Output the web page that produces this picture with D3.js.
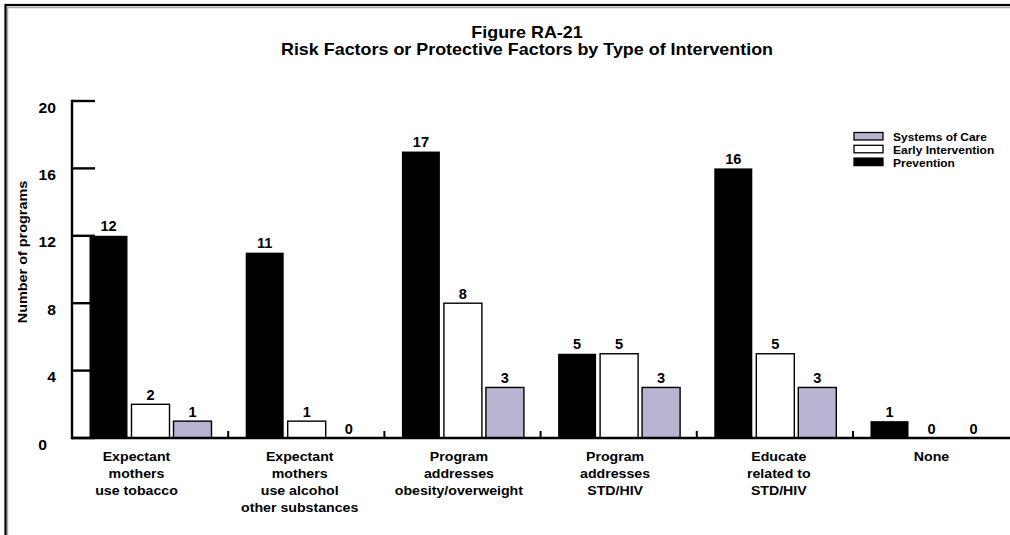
<!DOCTYPE html>
<html><head><meta charset="utf-8">
<script src="https://cdn.jsdelivr.net/npm/d3@7"></script>
<style>body{margin:0;background:#fff}svg{display:block}text{font-family:Arial,"Liberation Sans",sans-serif;font-weight:bold;fill:#000}</style>
</head><body>
<svg id="c" width="1010" height="535"></svg>
<script>
const categories = [
  ["Expectant","mothers","use tobacco"],
  ["Expectant","mothers","use alcohol","other substances"],
  ["Program","addresses","obesity/overweight"],
  ["Program","addresses","STD/HIV"],
  ["Educate","related to","STD/HIV"],
  ["None"]
];
const seriesNames = ["Prevention","Early Intervention","Systems of Care"];
const prevention = [12, 11, 17, 5, 16, 1];
const earlyIntervention = [2, 1, 8, 5, 5, 0];
const systemsOfCare = [1, 0, 3, 3, 3, 0];
const yTicks = [0, 4, 8, 12, 16, 20];
const titleLines = ["Figure RA-21", "Risk Factors or Protective Factors by Type of Intervention"];
const yLabel = "Number of programs";

const colors = ["#000000", "#ffffff", "#b8b4d2"];
const series = [prevention, earlyIntervention, systemsOfCare];

const svg = d3.select("#c");

function txt(x, y, s, size, sx, anchor, rot) {
  return svg.append("text")
    .attr("transform", `translate(${x},${y})` + (rot ? ` rotate(${rot})` : "") + ` scale(${sx},1)`)
    .attr("text-anchor", anchor || "start")
    .style("font-size", size + "px")
    .text(s);
}

// outer frame (extends past the window on right and bottom)
svg.append("rect").attr("x",7.5).attr("y",7.5).attr("width",1100).attr("height",700)
  .attr("fill","none").attr("stroke","#aaa").attr("stroke-width",1.5);
svg.append("rect").attr("x",5.5).attr("y",5).attr("width",1100).attr("height",700)
  .attr("fill","none").attr("stroke","#000").attr("stroke-width",2.2);

const x0 = 72, x1 = 1010, yTop = 101, yBot = 438;
const x = d3.scaleBand().domain(d3.range(categories.length)).range([x0, x0 + 156.2*6]).padding(0);
const y = d3.scaleLinear().domain([0,20]).range([yBot, yTop]);
const bw = 38, step = 42, off = 17.5;
const labelShift = [-14, -7, -4, -4, 3.5, 0];

// title
txt(527, 38, titleLines[0], 16, 1.12, "middle");
txt(527, 55, titleLines[1], 16, 1.12, "middle");

// y label
txt(27, 252, yLabel, 13, 1.11, "middle", -90);

// bars
categories.forEach((c,i)=>{
  series.forEach((s,j)=>{
    const v = s[i];
    const bx = x(i) + off + j*step;
    if (v > 0) {
      svg.append("rect").attr("x",bx).attr("y",y(v)).attr("width",bw).attr("height",y(0)-y(v))
        .attr("fill",colors[j]).attr("stroke","#000").attr("stroke-width", j===0?0:1.4);
    }
    txt(bx+bw/2, y(v)-4.5, String(v), 14, 1.04, "middle");
  });
});

// y axis
svg.append("line").attr("x1",x0).attr("x2",x0).attr("y1",y(20)-1.2).attr("y2",y(0)+1.2).attr("stroke","#000").attr("stroke-width",2.4);
yTicks.forEach(t=>{
  svg.append("line").attr("x1",x0).attr("x2",x0+23).attr("y1",y(t)).attr("y2",y(t)).attr("stroke","#000").attr("stroke-width",2.4);
  if (t === 0) txt(47, y(t)+12, String(t), 14, 1.12, "end");
  else txt(56, y(t)+11.5, String(t), 14, 1.12, "end");
});
// x axis
svg.append("line").attr("x1",x0).attr("x2",x1).attr("y1",y(0)).attr("y2",y(0)).attr("stroke","#000").attr("stroke-width",2.5);
d3.range(1,categories.length).forEach(i=>{
  svg.append("line").attr("x1",x(i)).attr("x2",x(i)).attr("y1",y(0)).attr("y2",y(0)-7).attr("stroke","#000").attr("stroke-width",2);
});

// category labels
categories.forEach((c,i)=>{
  const cx = x(i) + off + (2*step+bw)/2 + labelShift[i];
  c.forEach((line,k)=>{
    txt(cx, 461 + k*17, line, 13, 1.09, "middle");
  });
});

// legend
const legendOrder = [2,1,0];
legendOrder.forEach((j,k)=>{
  const ly = 132.5 + k*12.8;
  svg.append("rect").attr("x",854).attr("y",ly).attr("width",29).attr("height",7.5)
    .attr("fill",colors[j]).attr("stroke","#000").attr("stroke-width",1.3);
  txt(893, ly+8.5, seriesNames[j], 11, 1.09, "start");
});
</script>
</body></html>
